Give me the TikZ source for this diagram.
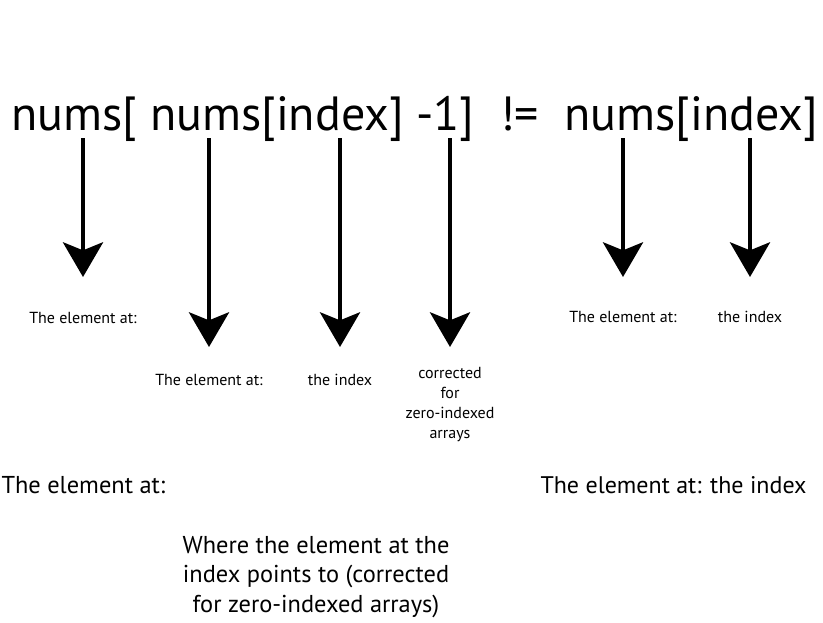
\documentclass[tikz,border=0pt]{standalone}
\usepackage{fontspec}
\setmainfont{PT Sans}
\usetikzlibrary{arrows.meta}
\tikzset{every picture/.style={line width=0.75pt}}
\tikzset{
  pointer/.style={line width=3.4pt,-{Stealth[length=26pt,width=30pt,inset=6pt]}},
  biglabel/.style={inner sep=0.75pt,font=\fontsize{36}{43}\selectfont},
  midlabel/.style={inner sep=0.75pt,font=\fontsize{18.3}{22}\selectfont,align=center},
  smalllabel/.style={inner sep=0.75pt,font=\fontsize{12}{15}\selectfont,align=center}
}

\begin{document}
\begin{tikzpicture}[x=0.75pt,y=0.75pt,yscale=-1,xscale=1]
        \path[use as bounding box] (0,0) rectangle (823,622);

        % Text Node
        \draw (10,130) node [anchor=base west][biglabel] (expr) {nums[ nums[index] -1]\ \ !=\ \ nums[index]};

        %Arrows
        \foreach \x/\y [count=\i] in {83/277, 209/347, 340/347, 450/347, 623/277, 750/277} {
          \coordinate (top\i) at (\x,138);
          \coordinate (tip\i) at (\x,\y);
          \draw[pointer] (top\i) -- (tip\i);
        }

        % Text Node
        \draw (83,318) node [smalllabel] (elemA) {The element at:};
        % Text Node
        \draw (209,380) node [smalllabel] (elemB) {The element at:};
        % Text Node
        \draw (340,380) node [smalllabel] (idxB) {the index};
        % Text Node
        \draw (450,405) node [smalllabel] (corr) {corrected\\for\\zero-indexed\\arrays};
        % Text Node
        \draw (623,317) node [smalllabel] (elemC) {The element at:};
        % Text Node
        \draw (750,317) node [smalllabel] (idxC) {the index};

        % Text Node
        \draw (0,485) node [anchor=west][midlabel] (sumL) {The element at:};
        % Text Node
        \draw (808,485) node [anchor=east][midlabel,font=\fontsize{18}{22}\selectfont] (sumR) {The element at: the index};
        % Text Node
        \draw (316,577) node [midlabel] (where) {Where the element at the\\index points to (corrected\\for zero-indexed arrays)};

\end{tikzpicture}
\end{document}
